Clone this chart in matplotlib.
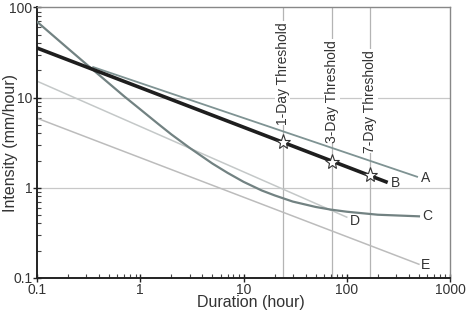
import matplotlib
matplotlib.use("Agg")
import matplotlib.pyplot as plt
from matplotlib.ticker import LogLocator, NullFormatter, FixedLocator, FixedFormatter

plt.rcParams['font.family'] = ['Liberation Sans', 'DejaVu Sans']

# Data
a_dur = [0.35, 480]
a_int = [21.8, 1.32]
b_dur = [0.1, 240]
b_int = [35.5, 1.16]
c_dur = [0.1, 0.2, 0.3, 0.5, 0.7, 1, 1.5, 2, 3, 5, 7, 10, 15, 20, 30, 50, 70, 100, 200, 500]
c_int = [69.5, 35, 23.5, 14.3, 10.3, 7.4, 5.07, 3.9, 2.77, 1.85, 1.46, 1.16, 0.93, 0.82, 0.70, 0.61, 0.57, 0.54, 0.50, 0.48]
d_dur = [0.1, 100]
d_int = [15.2, 0.47]
e_dur = [0.1, 500]
e_int = [5.9, 0.141]
thr_dur = [24, 72, 168]
thr_int = [3.23, 1.94, 1.38]
thr_labels = ['1-Day Threshold', '3-Day Threshold', '7-Day Threshold']
thr_text_top = [69, 43.5, 33.7]
curve_labels = ['A', 'B', 'C', 'D', 'E']
label_pos_x = [520, 270, 540, 108, 520]
label_pos_y = [1.27, 1.12, 0.49, 0.43, 0.14]

fig = plt.figure(figsize=(4.69, 3.12), dpi=100)
ax = fig.add_axes([0.0789, 0.110, 0.8806, 0.866])
ax.set_xscale('log')
ax.set_yscale('log')
ax.set_xlim(0.1, 1000)
ax.set_ylim(0.1, 100)

for yv in [1, 10]:
    ax.axhline(yv, color='#c8c8c8', lw=0.9, zorder=1)
for xv in thr_dur:
    ax.axvline(xv, color='#b4b4b4', lw=0.9, zorder=1)

ax.plot(e_dur, e_int, color='#bcbcbc', lw=1.1, zorder=2)
ax.plot(d_dur, d_int, color='#c4c8c8', lw=1.1, zorder=2)
ax.plot(c_dur, c_int, color='#728282', lw=1.6, zorder=3)
ax.plot(a_dur, a_int, color='#7f9393', lw=1.3, zorder=3)
ax.plot(b_dur, b_int, color='#1e1e1e', lw=2.6, zorder=4)
ax.plot(thr_dur, thr_int, linestyle='none', marker='*', ms=11, mfc='white',
        mec='#333333', mew=0.8, zorder=5)

for xv, lab, yt in zip(thr_dur, thr_labels, thr_text_top):
    ax.text(xv, yt, lab, rotation=90, ha='center', va='top', fontsize=10,
            color='#333333', zorder=3,
            bbox=dict(facecolor='white', edgecolor='none', pad=0.5))

for lab, lx, ly in zip(curve_labels, label_pos_x, label_pos_y):
    ax.text(lx, ly, lab, ha='left', va='center', fontsize=10, color='#333333')

for s in ['left', 'bottom']:
    ax.spines[s].set_color('#222222')
    ax.spines[s].set_linewidth(1.4)
for s in ['top', 'right']:
    ax.spines[s].set_color('#888888')
    ax.spines[s].set_linewidth(1.0)

ax.xaxis.set_major_locator(FixedLocator([0.1, 1, 10, 100, 1000]))
ax.xaxis.set_major_formatter(FixedFormatter(['0.1', '1', '10', '100', '1000']))
ax.yaxis.set_major_locator(FixedLocator([0.1, 1, 10, 100]))
ax.yaxis.set_major_formatter(FixedFormatter(['0.1', '1', '10', '100']))
ax.xaxis.set_minor_locator(LogLocator(base=10, subs=range(2, 10), numticks=20))
ax.yaxis.set_minor_locator(LogLocator(base=10, subs=range(2, 10), numticks=20))
ax.xaxis.set_minor_formatter(NullFormatter())
ax.yaxis.set_minor_formatter(NullFormatter())
ax.tick_params(which='major', direction='inout', length=6, width=1.0, color='#222222',
               labelsize=10, labelcolor='#333333', pad=0.5)
ax.tick_params(which='minor', direction='in', length=3, width=0.8, color='#444444')
ax.tick_params(top=False, right=False, which='both')

ax.set_xlabel('Duration (hour)', fontsize=11.5, color='#333333')
ax.xaxis.set_label_coords(0.517, -0.065)
ax.set_ylabel('Intensity (mm/hour)', fontsize=11.5, color='#333333')
ax.yaxis.set_label_coords(-0.047, 0.5)

fig.savefig('out.png', dpi=100)
